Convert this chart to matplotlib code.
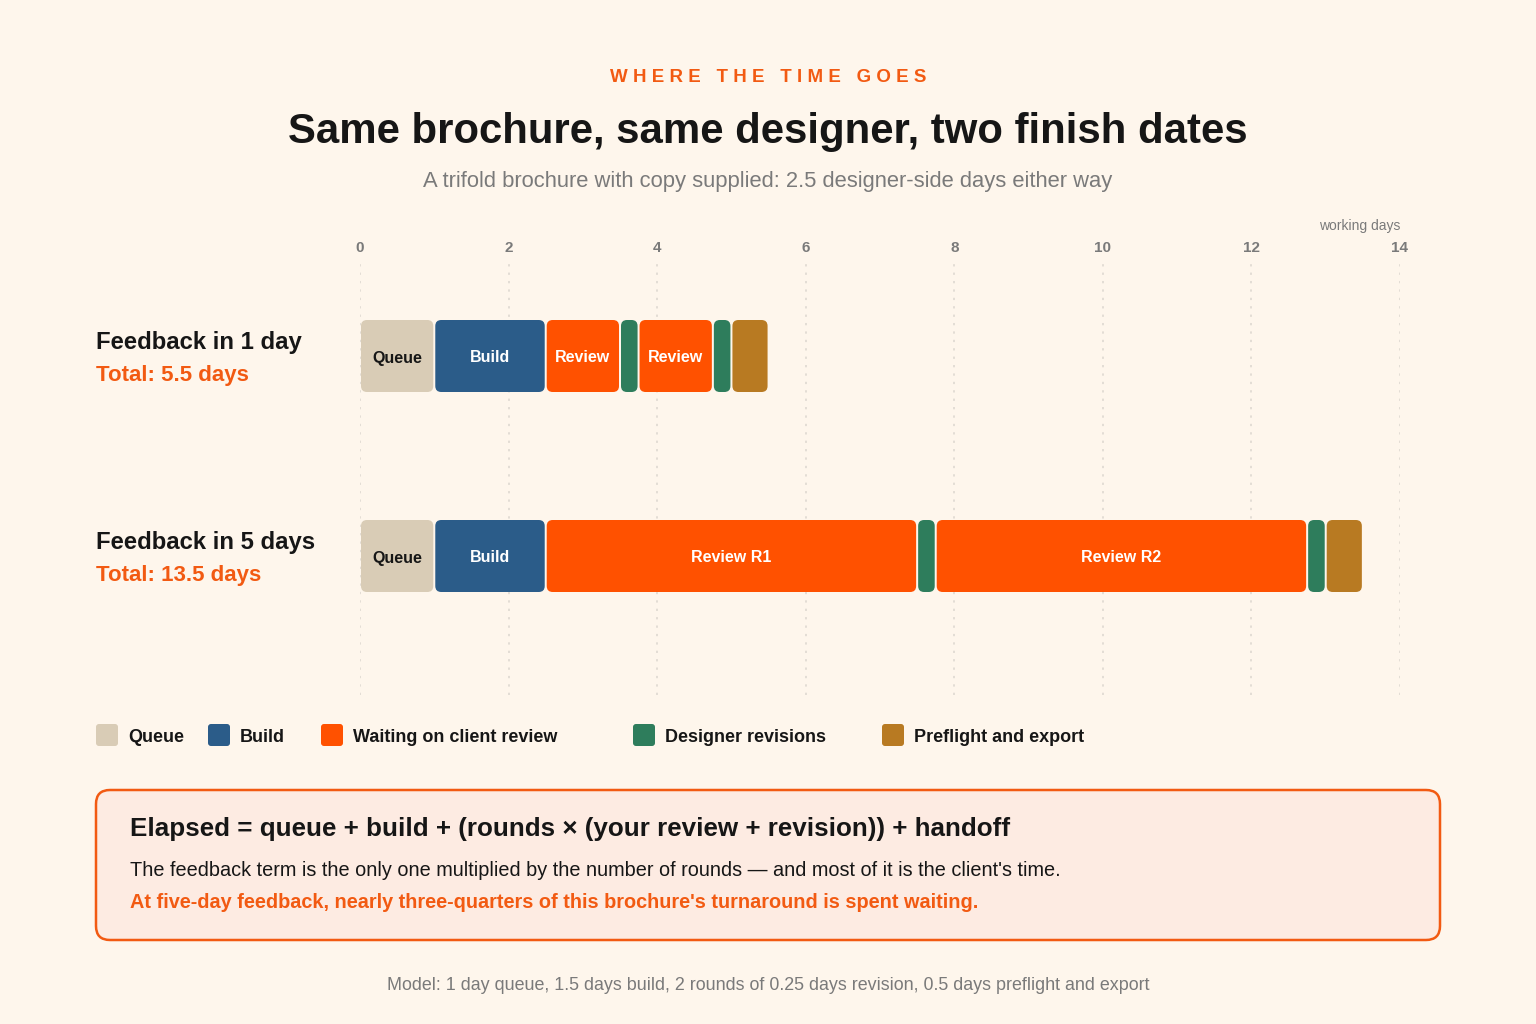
"""Timeline chart: where the time goes for a trifold brochure."""

import matplotlib
import matplotlib.pyplot as plt
from matplotlib.patches import FancyBboxPatch

matplotlib.use('Agg')

plt.rcParams['font.family'] = ['Liberation Sans', 'DejaVu Sans']

# ---- data ----
rows = ['Feedback in 1 day', 'Feedback in 5 days']
totals = ['Total: 5.5 days', 'Total: 13.5 days']
# (phase, duration in working days, label) per row
row_segments = [
    [('queue', 1.0, 'Queue'), ('build', 1.5, 'Build'), ('review', 1.0, 'Review'),
     ('revision', 0.25, ''), ('review', 1.0, 'Review'), ('revision', 0.25, ''),
     ('preflight', 0.5, '')],
    [('queue', 1.0, 'Queue'), ('build', 1.5, 'Build'), ('review', 5.0, 'Review R1'),
     ('revision', 0.25, ''), ('review', 5.0, 'Review R2'), ('revision', 0.25, ''),
     ('preflight', 0.5, '')],
]
x_ticks = [0, 2, 4, 6, 8, 10, 12, 14]
legend_phases = ['queue', 'build', 'review', 'revision', 'preflight']
legend_labels = ['Queue', 'Build', 'Waiting on client review', 'Designer revisions',
                 'Preflight and export']

# ---- style ----
BG = '#fef6ec'
ORANGE = '#f25a12'
DARK = '#161616'
GREY = '#7a7a7a'
colors = {
    'queue': '#d9ccb6',
    'build': '#2b5c89',
    'review': '#ff5100',
    'revision': '#2e7d5c',
    'preflight': '#b87a22',
}
label_colors = {'queue': DARK}

W, H = 1536, 1024
fig = plt.figure(figsize=(W / 100, H / 100), dpi=100, facecolor=BG)

# main timeline axes (pixel box: x 360..1400, y 262..695)
ax_top, ax_bot = 262, 695
ax = fig.add_axes([360 / W, 1 - ax_bot / H, 1040 / W, (ax_bot - ax_top) / H])
ax.set_facecolor('none')
ax.set_xlim(0, 14)
row_px = 200  # pixels between rows
ax.set_ylim(1 + (ax_bot - 556) / row_px, -(356 - ax_top) / row_px)
for s in ax.spines.values():
    s.set_visible(False)
ax.set_yticks([])
ax.xaxis.tick_top()
ax.set_xticks(x_ticks)
ax.set_xticklabels([str(t) for t in x_ticks], fontsize=11, fontweight='bold', color=GREY)
ax.tick_params(axis='x', length=0, pad=5)
ax.grid(axis='x', color='#dcd6ce', linestyle=(0, (1.5, 4)), linewidth=1.1)
ax.set_axisbelow(True)

px_x = 1040 / 14
bar_h = 72 / row_px
gap = 1.0 / px_x
radius = 6 / px_x
aspect = px_x / row_px

for r, segs in enumerate(row_segments):
    start = 0.0
    for phase, dur, label in segs:
        patch = FancyBboxPatch(
            (start + gap, r - bar_h / 2), dur - 2 * gap, bar_h,
            boxstyle=f'round,pad=0,rounding_size={radius}',
            mutation_aspect=aspect, facecolor=colors[phase], edgecolor='none', zorder=3)
        ax.add_patch(patch)
        if label:
            ax.text(start + dur / 2, r + 2 / row_px, label, ha='center', va='center',
                    fontsize=11.5, fontweight='bold', color=label_colors.get(phase, 'white'),
                    zorder=4)
        start += dur

ax.text(14, -(356 - 226) / row_px, 'working days', ha='right', va='center',
        fontsize=10, color=GREY)

# overlay axes in pixel coordinates for the rest of the layout
ov = fig.add_axes([0, 0, 1, 1])
ov.set_xlim(0, W)
ov.set_ylim(H, 0)
ov.axis('off')
ov.set_facecolor('none')

ov.text(768, 78, '   '.join(' '.join(w) for w in 'WHERE THE TIME GOES'.split()),
        ha='center', va='center', fontsize=13.5, fontweight='bold', color=ORANGE)
ov.text(768, 132, 'Same brochure, same designer, two finish dates', ha='center',
        va='center', fontsize=30.2, fontweight='bold', color=DARK)
ov.text(768, 182, 'A trifold brochure with copy supplied: 2.5 designer-side days either way',
        ha='center', va='center', fontsize=15.8, color=GREY)

for r, (name, total) in enumerate(zip(rows, totals)):
    y = 356 + r * row_px
    ov.text(96, y - 13, name, ha='left', va='center', fontsize=17.2, fontweight='bold',
            color=DARK)
    ov.text(96, y + 20, total, ha='left', va='center', fontsize=16, fontweight='bold',
            color=ORANGE)

# legend
legend_x = [96, 208, 321, 633, 882]
for lx, phase, lab in zip(legend_x, legend_phases, legend_labels):
    ov.add_patch(FancyBboxPatch((lx, 724), 22, 22, boxstyle='round,pad=0,rounding_size=3',
                                facecolor=colors[phase], edgecolor='none'))
    ov.text(lx + 32, 737, lab, ha='left', va='center', fontsize=13, fontweight='bold',
            color=DARK)

# formula box
ov.add_patch(FancyBboxPatch((96, 790), 1344, 150, boxstyle='round,pad=0,rounding_size=14',
                            facecolor='#fdebe2', edgecolor=ORANGE, linewidth=1.8))
ov.text(130, 829, 'Elapsed = queue + build + (rounds × (your review + revision)) + handoff',
        ha='left', va='center', fontsize=18.7, fontweight='bold', color=DARK)
ov.text(130, 870, "The feedback term is the only one multiplied by the number of rounds \u2014 "
        "and most of it is the client's time.", ha='left', va='center', fontsize=14.3,
        color=DARK)
ov.text(130, 902, "At five-day feedback, nearly three-quarters of this brochure's turnaround "
        "is spent waiting.", ha='left', va='center', fontsize=14.35, fontweight='bold',
        color=ORANGE)

ov.text(768, 985, 'Model: 1 day queue, 1.5 days build, 2 rounds of 0.25 days revision, '
        '0.5 days preflight and export', ha='center', va='center', fontsize=12.9, color=GREY)

fig.savefig('out.png', dpi=100, facecolor=BG)
plt.close(fig)
